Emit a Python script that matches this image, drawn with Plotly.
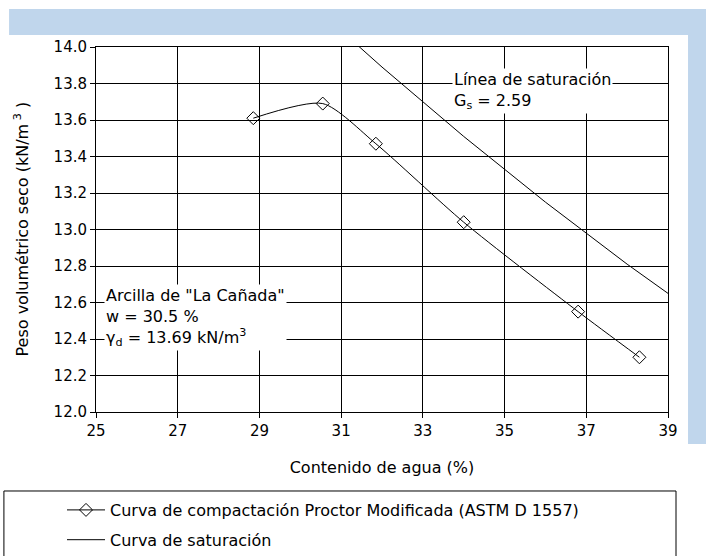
import plotly.graph_objects as go

# Compaction curve (Proctor modificado)
w_proctor = [28.85, 30.55, 31.85, 34.0, 36.8, 38.3]
gd_proctor = [13.61, 13.69, 13.47, 13.04, 12.55, 12.30]

# Saturation curve (Gs = 2.59)
w_sat = [31.3, 32, 33, 34, 35, 36, 37, 38, 39]
gd_sat = [14.03, 13.89, 13.70, 13.51, 13.33, 13.15, 12.98, 12.81, 12.65]

x_ticks = [25, 27, 29, 31, 33, 35, 37, 39]
y_ticks = [12.0, 12.2, 12.4, 12.6, 12.8, 13.0, 13.2, 13.4, 13.6, 13.8, 14.0]

FONT = "DejaVu Sans, Verdana, sans-serif"
FS = 16
FT = 15
W, H = 706, 556

fig = go.Figure()
fig.add_trace(go.Scatter(
    x=w_proctor, y=gd_proctor, mode="lines+markers",
    line=dict(color="black", width=1, shape="spline", smoothing=0.7),
    marker=dict(symbol="diamond-open", size=10, color="black", line=dict(width=1)),
    name="Curva de compactación Proctor Modificada (ASTM D 1557)",
    legendgroup="a",
))
fig.add_trace(go.Scatter(
    x=w_sat, y=gd_sat, mode="lines",
    line=dict(color="black", width=1),
    name="Curva de saturación",
    legendgroup="b",
))

axis_common = dict(
    showline=True, linecolor="black", linewidth=1, mirror=True,
    showgrid=True, gridcolor="black", gridwidth=1,
    ticks="outside", ticklen=5, tickcolor="black",
    zeroline=False,
    tickfont=dict(family=FONT, size=FT, color="black"),
)

fig.update_xaxes(
    range=[25, 39], tickvals=x_ticks, ticktext=[str(v) for v in x_ticks],
    title=dict(text="Contenido de agua (%)", font=dict(family=FONT, size=FS, color="black"), standoff=22),
    **axis_common,
)
fig.update_yaxes(
    range=[12.0, 14.0], tickvals=y_ticks, ticktext=[f"{v:.1f}" for v in y_ticks],
    **axis_common,
)

shapes = [
    # light blue frame strips
    dict(type="rect", xref="paper", yref="paper", x0=-0.152, x1=1.07, y0=1.033, y1=1.104,
         fillcolor="#c0d6ec", line=dict(width=0), layer="below"),
    dict(type="rect", xref="paper", yref="paper", x0=1.035, x1=1.07, y0=-0.088, y1=1.104,
         fillcolor="#c0d6ec", line=dict(width=0), layer="below"),
    # legend box
    dict(type="rect", xref="paper", yref="paper", x0=-0.161, x1=1.014, y0=-0.405, y1=-0.2164,
         fillcolor="rgba(0,0,0,0)", line=dict(color="black", width=1)),
]

annotations = [
    # y-axis title
    dict(xref="paper", yref="paper", x=(22 - 96) / 572, y=0.5,
         xanchor="center", yanchor="middle", showarrow=False, textangle=-90,
         text="Peso volumétrico seco (kN/m<sup> 3</sup> )",
         font=dict(family=FONT, size=FS, color="black")),
    dict(xref="paper", yref="paper", x=(452 - 96) / 572, y=(412 - 68) / 365,
         xanchor="left", yanchor="top", align="left", showarrow=False,
         text="Línea de saturación<br>G<sub>s</sub> = 2.59",
         font=dict(family=FONT, size=FS, color="black"),
         bgcolor="white", borderpad=1),
    dict(xref="paper", yref="paper", x=(104 - 96) / 572, y=(412 - 284) / 365,
         xanchor="left", yanchor="top", align="left", showarrow=False,
         text="Arcilla de \"La Cañada\"<br>w = 30.5 %<br>γ<sub>d</sub> = 13.69 kN/m<sup>3</sup>",
         font=dict(family=FONT, size=FS, color="black"),
         bgcolor="white", borderpad=1),
]

fig.update_layout(
    width=W, height=H,
    margin=dict(l=96, r=38, t=47, b=144, autoexpand=False),
    paper_bgcolor="white", plot_bgcolor="white",
    font=dict(family=FONT, size=FS, color="black"),
    shapes=shapes, annotations=annotations,
    showlegend=True,
    legend=dict(
        xref="container", yref="container",
        x=62 / W, y=(H - 493) / H, xanchor="left", yanchor="top",
        bgcolor="rgba(0,0,0,0)", borderwidth=0,
        traceorder="grouped", tracegroupgap=6, itemwidth=38,
        font=dict(family=FONT, size=FS, color="black"),
    ),
)

fig.write_html("out.html")
